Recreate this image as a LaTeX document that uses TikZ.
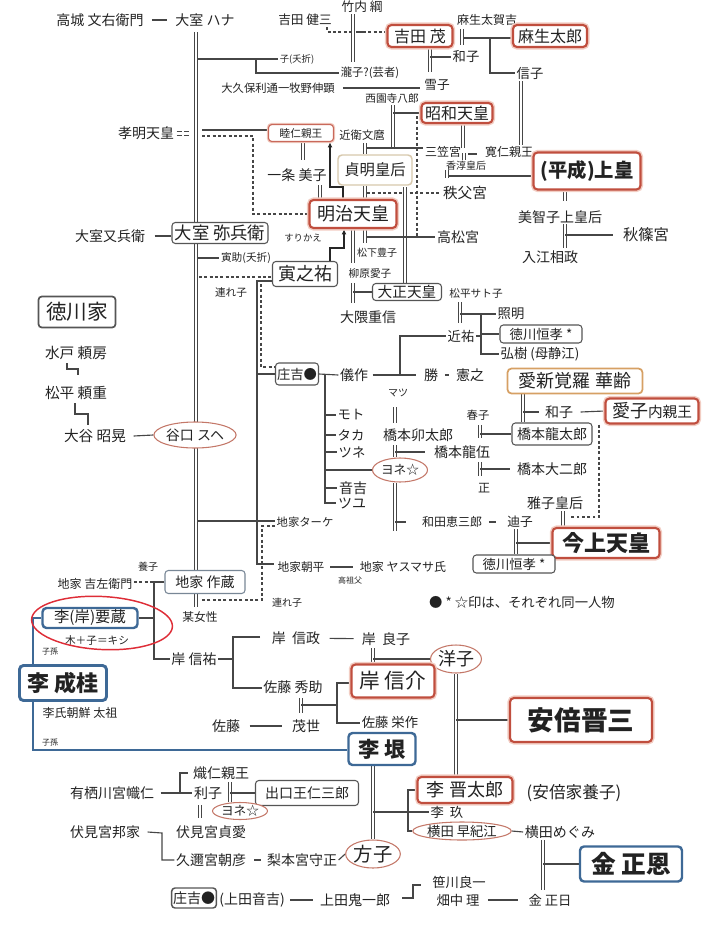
\documentclass[tikz,border=0pt]{standalone}
\usepackage{fontspec}
\setmainfont{Noto Sans CJK JP}
\usetikzlibrary{shapes.geometric,arrows.meta,calc,backgrounds}
\definecolor{txt}{RGB}{34,34,34}
\definecolor{lnc}{RGB}{70,70,70}
\definecolor{redc}{RGB}{192,78,62}
\definecolor{redglow}{RGB}{242,205,195}
\definecolor{bluec}{RGB}{62,105,150}
\definecolor{grayc}{RGB}{85,85,85}
\definecolor{grayblue}{RGB}{120,135,150}
\definecolor{beigec}{RGB}{215,200,172}
\definecolor{orangec}{RGB}{214,160,100}
\definecolor{ovalc}{RGB}{196,120,105}
\definecolor{handred}{RGB}{222,45,55}
\tikzset{
 fs/.style={font=\fontsize{#1}{#1}\selectfont},
 fsb/.style={font=\fontsize{#1}{#1}\selectfont\bfseries},
 lab/.style={inner sep=1pt,text=txt,fs=#1},
 lab/.default=10.5,
 bw/.style={minimum width=#1*0.75pt},
 bh/.style={minimum height=#1*0.75pt},
 rbox/.style={rectangle,rounded corners=3pt,draw=redc,line width=1.6pt,fill=white,inner sep=1pt,text=txt,preaction={draw=redglow,line width=3.8pt}},
 rthin/.style={rectangle,rounded corners=2.5pt,draw=redc!85,line width=0.9pt,fill=white,inner sep=1pt,text=txt,preaction={draw=redglow,line width=2.6pt}},
 bbox/.style={rectangle,rounded corners=3pt,draw=bluec,line width=1.8pt,fill=white,inner sep=1pt,text=txt},
 gbox/.style={rectangle,rounded corners=2.5pt,draw=grayc,line width=0.8pt,fill=white,inner sep=1pt,text=txt},
 ebox/.style={rectangle,rounded corners=3pt,draw=beigec,line width=1.1pt,fill=white,inner sep=1pt,text=txt},
 obox/.style={rectangle,rounded corners=3pt,draw=orangec,line width=1.3pt,fill=white,inner sep=1pt,text=txt},
 oval/.style={ellipse,draw=ovalc,line width=0.8pt,fill=white,inner sep=0pt,text=txt},
 ln/.style={draw=lnc,line width=0.85pt},
 dbl/.style={draw=lnc,line width=0.6pt,double=white,double distance=1.6pt},
 dsh/.style={draw=lnc,line width=0.8pt,dash pattern=on 2.2pt off 1.8pt},
 arr/.style={draw=black!85,line width=1.2pt,-{Latex[length=4pt,width=3.6pt]}},
 blueln/.style={draw=bluec,line width=1.9pt},
}
\begin{document}
\begin{tikzpicture}[x=0.75pt,y=-0.75pt]
\useasboundingbox (0,0) rectangle (720,929);
% ---------- nodes ----------
\node[lab=10.5] (takagi) at (100,20) {高城 文右衛門};
\node[lab=10.5] (hana) at (205,20) {大室 ハナ};
\node[lab=9.5] (takeuchi) at (362,7) {竹内 綱};
\node[lab=9.5] (kenzo) at (305,20) {吉田 健三};
\node[rbox,fs=12,bw=65,bh=22] (shigeru) at (420,36) {吉田 茂};
\node[lab=9] (asotaga) at (487,20) {麻生太賀吉};
\node[rbox,fs=12,bw=74,bh=22] (taro) at (550,36) {麻生太郎};
\node[lab=10] (kazuko1) at (466,57) {和子};
\node[lab=10] (nobuko) at (530,73) {信子};
\node[lab=7] (kosetsu) at (297,59) {子(夭折)};
\node[lab=8.5] (takiko) at (370,73) {瀧子?(芸者)};
\node[lab=8.5] (okubo) at (278,88) {大久保利通一牧野伸顕};
\node[lab=9.5] (yukiko) at (437,85) {雪子};
\node[lab=8] (saionji) at (392,98) {西園寺八郎};
\node[rbox,fs=12,bw=71,bh=20] (showa) at (457,113) {昭和天皇};
\node[rthin,fs=8,bw=65,bh=17] (mutsuhito) at (301,133) {睦仁親王};
\node[lab=8.5] (konoe) at (362,135) {近衛文麿};
\node[lab=10.5] (komei) at (146,133) {孝明天皇};
\node[lab=9] (mikasa) at (443,152) {三笠宮};
\node[lab=9] (tomohito) at (509,152) {寛仁親王};
\node[lab=10.5] (ichijo) at (297,175) {一条 美子};
\node[ebox,fs=11.5,bw=74,bh=30] (teimei) at (375,170) {貞明皇后};
\node[lab=7.5] (kojun) at (466,166) {香淳皇后};
\node[rbox,fsb=14.5,bw=107,bh=37] (heisei) at (587,171) {(平成)上皇};
\node[lab=11] (chichibu) at (465,193) {秩父宮};
\node[rbox,fs=13.5,bw=87,bh=28] (meiji) at (353,214) {明治天皇};
\node[lab=10.5] (michiko) at (560,217) {美智子上皇后};
\node[lab=11.5] (akishino) at (646,235) {秋篠宮};
\node[lab=10.5] (irie) at (550,257) {入江相政};
\node[lab=10.5] (takamatsu) at (458,237) {高松宮};
\node[gbox,fs=13,bw=96,bh=21] (yahei) at (220,233) {大室 弥兵衛};
\node[lab=10.5] (matabei) at (110,236) {大室又兵衛};
\node[lab=7] (surikae) at (303,238) {すりかえ};
\node[lab=8] (torasuke) at (246,258) {寅助(夭折)};
\node[lab=7.5] (matsushita) at (377,253) {松下豊子};
\node[gbox,fs=13.5,bw=65,bh=25] (toranosuke) at (305,274) {寅之祐};
\node[lab=8] (yanagiwara) at (370,273) {柳原愛子};
\node[lab=8] (tsureko1) at (231,292) {連れ子};
\node[gbox,fs=11,bw=69,bh=17] (taisho) at (407,292) {大正天皇};
\node[lab=8] (satoko) at (476,293) {松平サト子};
\node[lab=10.5] (okuma) at (368,317) {大隈重信};
\node[gbox,fs=15.5,bw=77,bh=31,line width=1.3pt] (tokugawa) at (77,312) {徳川家};
\node[lab=10] (teruaki) at (511,314) {照明};
\node[gbox,fs=10,bw=82,bh=18] (tsunenari1) at (541,334) {徳川恒孝 *};
\node[lab=10] (chikasuke) at (461,336) {近祐};
\node[lab=10] (hiroki) at (540,354) {弘樹 (母静江)};
\node[lab=11] (mito) at (76,353) {水戸 頼房};
\node[gbox,fs=10,bw=43,bh=22] (shokichi1) at (297,374) {庄吉●};
\node[lab=10.5] (gisaku) at (354,375) {儀作};
\node[lab=10.5] (katsu) at (431,375) {勝};
\node[lab=10.5] (noriyuki) at (470,375) {憲之};
\node[obox,fs=13.5,bw=135,bh=25] (aisin) at (575,381) {愛新覚羅 華齢};
\node[lab=11] (matsudaira) at (76,393) {松平 頼重};
\node[lab=7.5] (matsu) at (398,393) {マツ};
\node[lab=10.5] (kazuko2) at (559,412) {和子};
\node[rbox,fs=13.5,bw=93,bh=25] (aiko) at (652,411) {愛子{\fontsize{11}{11}\selectfont 内親王}};
\node[lab=10] (moto) at (351,415) {モト};
\node[lab=8.5] (haruko) at (478,415) {春子};
\node[lab=10] (taka) at (351,435) {タカ};
\node[lab=10.5] (utaro) at (418,435) {橋本卯太郎};
\node[gbox,fs=10.5,bw=80,bh=22] (ryutaro) at (552,434) {橋本龍太郎};
\node[lab=11] (otani) at (95,436) {大谷 昭晃};
\node[oval,fs=10.5,bw=70,bh=26] (taniguchi) at (195,435) {谷口 スヘ};
\node[lab=10] (tsune) at (352,452) {ツネ};
\node[lab=10.5] (ryugo) at (462,452) {橋本龍伍};
\node[oval,fs=9.5,bw=55,bh=24] (yone1) at (400,470) {ヨネ☆};
\node[lab=10.5] (daijiro) at (552,469) {橋本大二郎};
\node[lab=9] (masa) at (484,488) {正};
\node[lab=10.5] (otokichi) at (353,488) {音吉};
\node[lab=10.5] (tsuyu) at (352,503) {ツユ};
\node[lab=10.5] (masako) at (555,503) {雅子皇后};
\node[lab=9] (wada) at (452,522) {和田恵三郎};
\node[lab=9.5] (michi) at (520,522) {迪子};
\node[lab=8.5] (jiketake) at (305,522) {地家ターケ};
\node[rbox,fsb=16.5,bw=107,bh=30] (kinjo) at (606,543) {今上天皇};
\node[gbox,fs=10,bw=82,bh=18] (tsunenari2) at (514,564) {徳川恒孝 *};
\node[lab=8.8] (asahei) at (301,567) {地家朝平};
\node[lab=9] (yasumasa) at (403,567) {地家 ヤスマサ氏};
\node[lab=6] (koso) at (350,580) {高祖父};
\node[lab=7.5] (yoshi) at (148,567) {養子};
\node[lab=9] (kichizaemon) at (95,584) {地家 吉左衛門};
\node[gbox,draw=grayblue,fs=10.5,bw=80,bh=23] (sakuzo) at (205,582) {地家 作蔵};
\node[lab=7.5] (tsureko2) at (287,603) {連れ子};
\node[lab=10] (note) at (522,602) {● * ☆印は、それぞれ同一人物};
\node[bbox,fs=11.5,bw=95,bh=20] (yozo) at (90,618) {李(岸)要蔵};
\node[lab=8.8] (bojo) at (200,617) {某女性};
\node[lab=8] (kishinote) at (97,640) {木＋子＝キシ};
\node[lab=10.5] (nobumasa) at (296,638) {岸\ \ 信政};
\node[lab=10.5] (yoshiko) at (386,639) {岸\ \ 良子};
\node[lab=6] (shison1) at (50,652) {子孫};
\node[oval,fs=13.5,bw=48,bh=28] (yoko) at (456,659) {洋子};
\node[lab=10.5] (nobusukek) at (194,659) {岸 信祐};
\node[bbox,fsb=16.5,bw=87,bh=35,line width=2.2pt] (riseikei) at (63,683) {李 成桂};
\node[rbox,fs=15.5,bw=83,bh=33] (nobusuke) at (393,681) {岸 信介};
\node[lab=10.5] (hidesuke) at (293,687) {佐藤 秀助};
\node[lab=9] (rishi) at (80,713) {李氏朝鮮 太祖};
\node[rbox,fsb=20,bw=142,bh=44] (abe) at (581,720) {安倍晋三};
\node[lab=10] (eisaku) at (390,722) {佐藤 栄作};
\node[lab=10.5] (sato) at (226,726) {佐藤};
\node[lab=10.5] (moyo) at (306,726) {茂世};
\node[lab=6] (shison2) at (50,743) {子孫};
\node[bbox,fsb=16,bw=67,bh=32] (rigin) at (382,749) {李 垠};
\node[lab=10.5] (taruhito) at (221,773) {熾仁親王};
\node[rbox,fs=13.5,bw=95,bh=26] (shintaro) at (465,790) {李 晋太郎};
\node[lab=12.5] (abeyoshi) at (574,793) {(安倍家養子)};
\node[lab=10.5] (arisugawa) at (112,793) {有栖川宮幟仁};
\node[lab=10.5] (toshiko) at (208,793) {利子};
\node[gbox,fs=10.5,bw=103,bh=25] (deguchi) at (307,793) {出口王仁三郎};
\node[oval,fs=9.5,bw=55,bh=17] (yone2) at (240,811) {ヨネ☆};
\node[lab=10] (rikyu) at (447,812) {李\ \ 玖};
\node[oval,fs=10,bw=90,bh=18] (sakie) at (462,831) {横田 早紀江};
\node[lab=10.5] (megumi) at (560,832) {横田めぐみ};
\node[lab=10.5] (fushimik) at (105,832) {伏見宮邦家};
\node[lab=10.5] (fushimis) at (211,832) {伏見宮貞愛};
\node[oval,fs=14.5,bw=53,bh=28] (masako2) at (373,854) {方子};
\node[lab=10.5] (kuni) at (211,860) {久邇宮朝彦};
\node[lab=10.5] (nashimoto) at (302,860) {梨本宮守正};
\node[bbox,fsb=18.5,bw=102,bh=35] (kimjongun) at (631,864) {金 正恩};
\node[lab=10] (sasakawa) at (459,882) {笹川良一};
\node[lab=10] (hatanaka) at (458,900) {畑中 理};
\node[lab=10] (kimjongil) at (550,900) {金 正日};
\node[gbox,fs=10.5,bw=43,bh=20,line width=1.1pt] (shokichi2) at (194,898) {庄吉●};
\node[lab=10.5] (uedaoto) at (252,900) {(上田音吉)};
\node[lab=10.5] (uedaoni) at (355,900) {上田鬼一郎};
\node[draw=handred,line width=1.1pt,ellipse,bw=141,bh=53,rotate=-3,inner sep=0pt] (circ) at (102,623) {};
% ---------- connectors ----------
\begin{scope}[on background layer]
\coordinate (m0) at (196,32); \coordinate (m1) at (196,607);
\draw[dbl] (m0) -- (m1);
\draw[ln,shorten <=5pt,shorten >=5pt] (takagi) -- (hana);
% yoshida
\coordinate (kz) at (327,32); \coordinate (tk0) at (351,32);
\draw[dsh] (kenzo.south -| kz) -- (kz) -- (tk0);
\coordinate (tkA) at (353,14); \coordinate (tkB) at (353,62);
\draw[dbl] (tkA) -- (tkB);
\coordinate (tk1) at (356,32); \coordinate (tk2) at (363,32);
\draw[ln] (tk1) -- (tk2);
\draw[dsh] (tk2) -- (shigeru.west |- tk2);
\coordinate (as0) at (462,29);
\draw[dbl] (as0) -- ++(0,16);
\coordinate (as1) at (464,38);
\draw[ln] (as1) -- (taro.west |- as1);
\coordinate (as2) at (490,38);
\draw[ln] (as2) |- (nobuko.west);
\coordinate (sg0) at (430,47);
\draw[dbl] (sg0) -- ++(0,25);
\draw[ln] (sg0 |- kazuko1) -- (kazuko1.west);
\coordinate (ks0) at (198,59); \coordinate (ks1) at (256,59);
\draw[ln] (ks0) -- (kosetsu.west);
\draw[ln] (ks1) |- (takiko.west);
\draw[ln,shorten <=5pt,shorten >=2pt] (okubo.east) -- (yukiko.west |- okubo.east);
\coordinate (nb0) at (521,81);
\draw[dbl] (nb0) -- (nb0 |- tomohito.north);
% imperial
\coordinate (si0) at (393,105); \coordinate (si1) at (393,148);
\draw[dbl] (si0) -- (si1);
\draw[ln] (si0 |- showa.west) -- (showa.west);
\coordinate (sw0) at (463,123);
\draw[dbl] (showa.south -| sw0) -- ++(0,24);
\coordinate (mk0) at (464,153);
\draw[dbl] (mk0) -- ++(0,7);
\draw[ln] ($(mk0)+(4,1)$) -- ++(9,0);
\coordinate (kn0) at (365,143);
\draw[dbl] (kn0) -- (kn0 |- teimei.north);
\coordinate (kn1) at (367,148);
\draw[ln] (kn1) -- (mikasa.west |- kn1);
\coordinate (sd0) at (417,116); \coordinate (sd1) at (417,237);
\draw[dsh] (sd0) -- (sd1);
\coordinate (kj0) at (447,170);
\draw[dbl] (kj0) -- ++(0,8);
\coordinate (kj1) at (449,176);
\draw[ln] (kj1) -- (heisei.west |- kj1);
\coordinate (cb0) at (367,193);
\draw[dsh] (cb0) -- (chichibu.west);
\draw[dbl] (teimei.south -| kn0) -- (meiji.north -| kn0);
\coordinate (ts0) at (405,187);
\draw[dbl] (ts0) -- (ts0 |- taisho.north);
\draw[dbl] (meiji.south -| kn0) -- ++(0,14);
\coordinate (tm0) at (367,237);
\draw[ln] (tm0) -- (takamatsu.west);
\coordinate (mj0) at (353,228);
\draw[dbl] (mj0) -- ++(0,35);
\coordinate (mj1) at (353,283);
\draw[dbl] (mj1) -- ++(0,20);
\draw[ln] (mj1 |- taisho.west) -- (taisho.west);
\coordinate (km0) at (202,130);
\draw[ln] (km0) -- (mutsuhito.west |- km0);
\coordinate (km1) at (202,136); \coordinate (km2) at (253,136);
\draw[dsh] (km1) -- (km2) |- (meiji.west);
\draw[ln,line width=0.7pt,dash pattern=on 4pt off 1.5pt] ($(komei.east)+(1,-2)$) -- ++(13,0) ($(komei.east)+(1,2)$) -- ++(13,0);
\coordinate (mt0) at (303,142);
\draw[dbl] (mutsuhito.south -| mt0) -- ++(0,18);
\coordinate (ic0) at (320,185);
\draw[dbl] (ic0) -- (meiji.north -| ic0);
\coordinate (ar0) at (343,187); \coordinate (ar1) at (330,187);
\draw[arr] (meiji.north -| ar0) -- (ar0) -- (ar1) -- (mutsuhito.south -| ar1);
\coordinate (ar2) at (330,248); \coordinate (ar3) at (344,248);
\draw[arr] (toranosuke.north -| ar2) -- (ar2) -- (ar3) -- (meiji.south -| ar3);
\coordinate (hs0) at (565,190);
\draw[dbl] (heisei.south -| hs0) -- ++(0,10);
\coordinate (mi0) at (565,224);
\draw[dbl] (mi0) -- ++(0,24);
\draw[ln] (mi0 |- akishino.west) -- ($(akishino.west)+(-8,0)$);
% omuro
\draw[ln] ($(matabei.east)+(8,0)$) -- (yahei.west |- matabei.east);
\coordinate (tr0) at (198,258);
\draw[ln] (tr0) -- (torasuke.west);
\coordinate (tn0) at (199,277);
\draw[dsh] (tn0) -- (toranosuke.west |- tn0);
\coordinate (tn1) at (257,281); \coordinate (tn2) at (257,564);
\draw[ln] (toranosuke.west |- tn1) -- (tn1) -- (tn2) -- ($(asahei.west |- tn2)+(-2,0)$);
\coordinate (tn3) at (261,284); \coordinate (sk) at (261,367);
\draw[dsh] (tn3) -- (sk) -- (shokichi1.west |- sk);
\draw[ln] (tn1 |- shokichi1.west) -- (shokichi1.west);
\coordinate (jt0) at (198,521);
\draw[ln] (jt0) -- (jiketake.west |- jt0);
\coordinate (jd0) at (262,526); \coordinate (jd1) at (262,600); \coordinate (jd2) at (200,600);
\draw[dsh] (jiketake.west |- jd0) -- (jd0) -- (jd1) -- (jd2);
\draw[ln,shorten <=3pt,shorten >=4pt] (asahei) -- (yasumasa);
\draw[dsh] (kichizaemon.east |- sakuzo.west) -- (sakuzo.west);
\coordinate (sz0) at (154,582);
\draw[ln] (sakuzo.west) -- (sz0) -- (sz0 |- nobusukek.west) -- (nobusukek.west);
\draw[ln] (sz0 |- yozo.east) -- (yozo.east);
\coordinate (bl0) at (33,618); \coordinate (bl1) at (33,750);
\draw[blueln] (yozo.west) -- (bl0) -- (bl0 |- riseikei.north);
\draw[blueln] (riseikei.south -| bl0) -- (bl1) -- (rigin.west |- bl1);
% kishi / sato
\coordinate (nk0) at (233,637); \coordinate (nk1) at (233,688);
\draw[ln] (nobusukek.east) -- (nobusukek.east -| nk0);
\draw[ln] ($(nk0)+(27,0)$) -- (nk0) -- (nk1) -- (hidesuke.west |- nk1);
\draw[ln,shorten <=6pt,shorten >=5pt] (nobumasa) -- (yoshiko);
\coordinate (yk0) at (373,648);
\draw[dbl] (yk0) -- (yk0 |- nobusuke.north);
\draw[ln] (yk0 |- yoko.west) -- (yoko.west);
\coordinate (sh0) at (301,698);
\draw[dbl] (sh0) -- ++(0,15);
\coordinate (sh1) at (337,705); \coordinate (sh2) at (337,683); \coordinate (sh3) at (337,723);
\draw[ln] (sh0 |- sh1) -- (sh1);
\draw[ln] (nobusuke.west |- sh2) -- (sh2) -- (sh3) -- (eisaku.west |- sh3);
\draw[ln,shorten <=6pt,shorten >=6pt] (sato) -- (moyo);
\draw[dbl] (yoko.south) -- (yoko.south |- shintaro.north);
\draw[ln] (yoko.south |- abe.west) -- (abe.west);
% ri
\coordinate (rg0) at (373,765);
\draw[dbl] (rigin.south -| rg0) -- (masako2.north -| rg0);
\draw[ln] (rg0 |- rikyu.west) -- (rikyu.west);
\coordinate (br0) at (408,790); \coordinate (br1) at (408,831);
\draw[ln] (shintaro.west |- br0) -- (br0) -- (br1) -- (sakie.west |- br1);
\draw[ln] (sakie.east) -- (megumi.west);
\coordinate (mg0) at (543,840);
\draw[dbl] (mg0) -- ++(0,50);
\draw[ln] (mg0 |- kimjongun.west) -- (kimjongun.west);
\draw[ln,shorten <=5pt,shorten >=7pt] (hatanaka) -- (kimjongil);
\coordinate (ub0) at (413,885); \coordinate (ub1) at (413,898); \coordinate (ub2) at (402,898);
\draw[ln] (ub2) -- (ub1) -- (ub0) -- ++(8,0);
\draw[ln,shorten <=3pt,shorten >=4pt] (uedaoto) -- (uedaoni);
% arisugawa / fushimi
\coordinate (ay0) at (180,793);
\draw[ln] ($(arisugawa.east)+(5,0)$) -- (toshiko.west);
\draw[ln] (ay0) -- (ay0 |- taruhito.west) -- ++(8,0);
\coordinate (tsh0) at (200,805);
\draw[dbl] (tsh0) -- ++(0,13);
\coordinate (tsh1) at (230,782);
\draw[dbl] (tsh1) -- ++(0,20);
\draw[ln] (tsh1 |- deguchi.west) -- (deguchi.west);
\coordinate (fs0) at (162,833);
\draw[ln] ($(fushimik.east)+(6,0)$) -- (fs0) -- (fs0 |- kuni.west) -- (kuni.west);
\draw[ln,shorten <=5pt,shorten >=3pt] (kuni) -- (nashimoto);
\draw[ln] (nashimoto.east) -- (masako2.west);
% tokugawa
\coordinate (tg0) at (67,363); \coordinate (tg1) at (78,369);
\draw[ln] (tg0) -- (tg0 |- tg1) -- (tg1) -- ++(0,6);
\coordinate (tg2) at (75,403); \coordinate (tg3) at (88,414);
\draw[ln] (tg2) -- (tg2 |- tg3) -- (tg3) -- ++(0,11);
\draw[ln] ($(otani.east)+(6,0)$) -- (taniguchi.west);
% shokichi
\coordinate (sk1) at (325,374); \coordinate (sk2) at (325,503);
\draw[ln] (shokichi1.east) -- (gisaku.west);
\draw[ln] (sk1) -- (sk2) -- (tsuyu.west |- sk2);
\foreach \n in {moto,taka,tsune,otokichi} \draw[ln] (sk1 |- \n.west) -- (\n.west);
\draw[ln] (sk1 |- yone1.west) -- (yone1.west);
\coordinate (gk0) at (400,374);
\draw[ln] ($(gisaku.east)+(3,0)$) -- ($(katsu.west)+(-6,0)$);
\draw[ln] (gk0) -- (gk0 |- chikasuke.west) -- (chikasuke.west);
\draw[ln,shorten <=4pt,shorten >=4pt] (katsu) -- (noriyuki);
\coordinate (ch0) at (481,314); \coordinate (ch1) at (481,354);
\draw[ln] (chikasuke.east) -- (chikasuke.east -| ch0);
\draw[ln] (ch0) -- (ch1) -- (hiroki.west |- ch1);
\draw[ln] (ch0) -- (teruaki.west);
\draw[ln] (ch0 |- tsunenari1.west) -- (tsunenari1.west);
\coordinate (md0) at (460,302);
\draw[dbl] (md0) -- ++(0,21);
\draw[ln] (md0 |- ch0) -- (ch0);
\coordinate (mz0) at (395,407);
\draw[dbl] (mz0) -- ++(0,16);
\coordinate (ut0) at (395,445);
\draw[dbl] (ut0) -- (yone1.north -| ut0);
\draw[ln] (ut0 |- ryugo.west) -- ($(ryugo.west)+(-7,0)$);
\draw[dbl] (yone1.south -| ut0) -- ++(0,48);
\draw[ln] (ut0 |- wada.west) -- ++(11,0);
\coordinate (hr0) at (480,425);
\draw[dbl] (hr0) -- ++(0,13);
\draw[ln] (hr0 |- ryutaro.west) -- (ryutaro.west);
\coordinate (ms0) at (480,462);
\draw[dbl] (ms0) -- ++(0,14);
\draw[ln] (ms0 |- daijiro.west) -- ($(daijiro.west)+(-5,0)$);
\coordinate (ai0) at (523,393);
\draw[dbl] (aisin.south -| ai0) -- (ryutaro.north -| ai0);
\draw[ln] (ai0 |- kazuko2.west) -- ($(kazuko2.west)+(-4,0)$);
\draw[ln] ($(kazuko2.east)+(6,0)$) -- (aiko.west);
\coordinate (ad0) at (599,517);
\draw[dsh] (aiko.south west -| ad0) -- (ad0) -- ++(-29,0);
\coordinate (mk1) at (563,510);
\draw[dbl] (masako.south -| mk1) -- (kinjo.north -| mk1);
\coordinate (mc0) at (516,530);
\draw[dbl] (michi.south -| mc0) -- (tsunenari2.north -| mc0);
\draw[ln] (mc0 |- kinjo.west) -- (kinjo.west);
\draw[ln,shorten <=4pt,shorten >=7pt] (wada) -- (michi);
\end{scope}
\end{tikzpicture}
\end{document}
